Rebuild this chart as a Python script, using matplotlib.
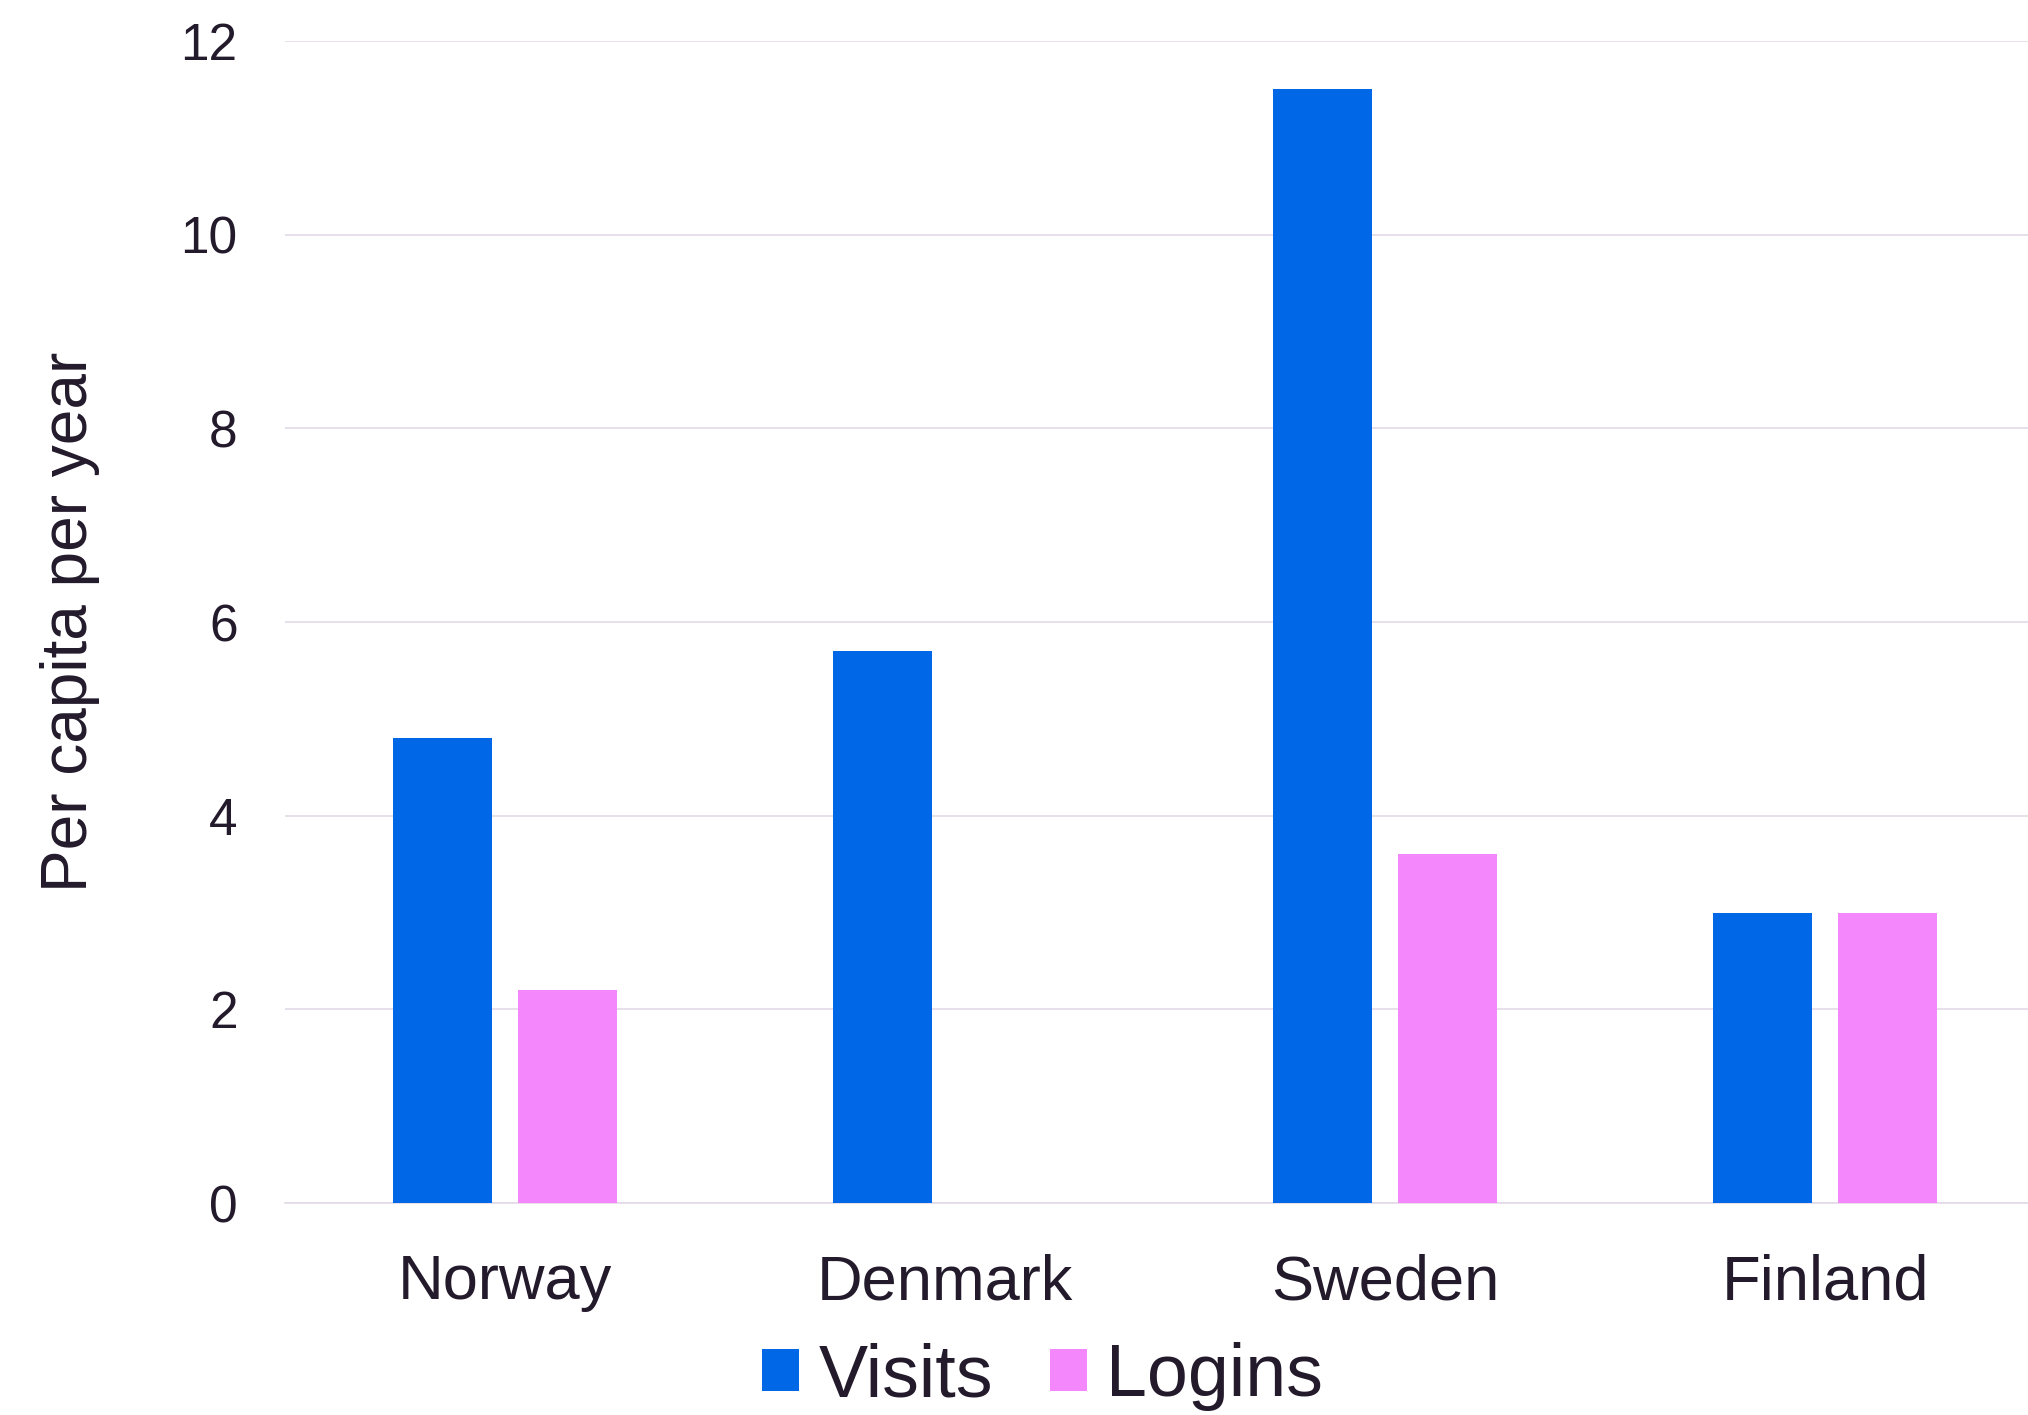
import numpy as np
import matplotlib
matplotlib.use("Agg")
import matplotlib.pyplot as plt

countries = ["Norway", "Denmark", "Sweden", "Finland"]
visits = [4.8, 5.7, 11.5, 3.0]
logins = [2.2, 0.0, 3.6, 3.0]
y_ticks = [0, 2, 4, 6, 8, 10, 12]

blue = "#0068E6"
pink = "#F587FC"
text_color = "#231A2B"
grid_color = "#E3DAE8"

plt.rcParams["font.family"] = ["Liberation Sans", "DejaVu Sans"]

fig = plt.figure(figsize=(20.28, 14.15), dpi=100)
ax = fig.add_axes([0.1405, 0.1498, 0.8679, 0.8212])

x = np.arange(len(countries))
w = 0.224
off = 0.1425
ax.bar(x - off, visits, w, color=blue, label="Visits", zorder=3)
ax.bar(x + off, logins, w, color=pink, label="Logins", zorder=3)

ax.set_xlim(-0.5, len(countries) - 0.5)
ax.set_ylim(0, 12)
ax.set_yticks(y_ticks)
ax.set_yticklabels([str(t) for t in y_ticks], fontsize=37, color=text_color)
ax.set_xticks(x)
ax.set_xticklabels(countries, fontsize=45.5, color=text_color)
ax.tick_params(axis="y", length=0, pad=34)
ax.tick_params(axis="x", length=0, pad=36)

ax.grid(axis="y", color=grid_color, linewidth=1.2, zorder=0)
for s in ["top", "right", "left"]:
    ax.spines[s].set_visible(False)
ax.spines["bottom"].set_color(grid_color)
ax.spines["bottom"].set_linewidth(1.2)

ax.set_ylabel("Per capita per year", fontsize=46, color=text_color)
ax.yaxis.set_label_coords(-0.105, 0.5)

fig.legend(loc="center", bbox_to_anchor=(0.514, 0.027), ncol=2, frameon=False,
           fontsize=53, handlelength=0.51, handleheight=0.51,
           handletextpad=0.26, columnspacing=0.77, labelcolor=text_color,
           borderpad=0, borderaxespad=0)

fig.savefig("out.png", dpi=100, facecolor="white")
